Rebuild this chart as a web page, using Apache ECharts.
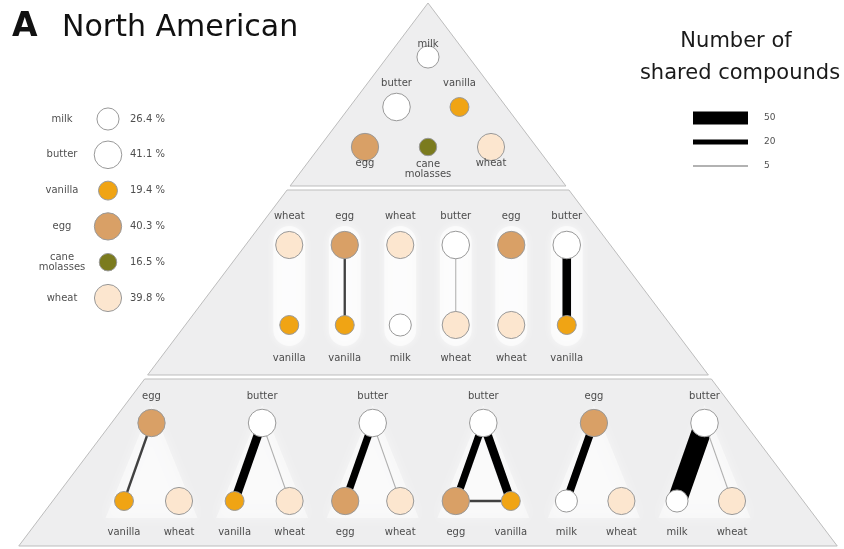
<!DOCTYPE html>
<html>
<head>
<meta charset="utf-8">
<script src="https://cdn.jsdelivr.net/npm/echarts@6/dist/echarts.min.js"></script>
<style>html,body{margin:0;padding:0;background:#fff;}#c{width:844px;height:549px;}</style>
</head>
<body>
<div id="c"></div>
<script>
// ---------------- data ----------------
const ingredients = ['milk', 'butter', 'vanilla', 'egg', 'cane molasses', 'wheat'];
const ingredientLabels = ['milk', 'butter', 'vanilla', 'egg', 'cane\nmolasses', 'wheat'];
const prevalence = [26.4, 41.1, 19.4, 40.3, 16.5, 39.8]; // % of recipes
const pairTop = ['wheat', 'egg', 'wheat', 'butter', 'egg', 'butter'];
const pairBottom = ['vanilla', 'vanilla', 'milk', 'wheat', 'wheat', 'vanilla'];
const triadTop = ['egg', 'butter', 'butter', 'butter', 'egg', 'butter'];
const triadLeft = ['vanilla', 'vanilla', 'egg', 'egg', 'milk', 'milk'];
const triadRight = ['wheat', 'wheat', 'wheat', 'vanilla', 'wheat', 'wheat'];
const edgeA = ['butter', 'butter', 'butter', 'butter', 'egg', 'egg'];
const edgeB = ['milk', 'vanilla', 'egg', 'wheat', 'milk', 'vanilla'];
const edgeCount = [75, 33, 28, 4, 30, 9]; // shared compounds
const scaleCounts = [50, 20, 5];
const scaleLabels = ['50', '20', '5'];

// ---------------- styles ----------------
const nodeColor = {
  'milk': '#ffffff', 'butter': '#ffffff', 'vanilla': '#F0A414',
  'egg': '#D9A066', 'cane molasses': '#7B7B1E', 'wheat': '#FCE6CF'
};
const FONT = 'DejaVu Sans';
const CX = 428, APEX = 3, SLOPE = 410 / 544;

function diam(name) { return 4.3 * Math.sqrt(prevalence[ingredients.indexOf(name)]); }
function shared(a, b) {
  for (let i = 0; i < edgeA.length; i++) {
    if ((edgeA[i] === a && edgeB[i] === b) || (edgeA[i] === b && edgeB[i] === a)) return edgeCount[i];
  }
  return 0;
}
function edgeWidth(n) { return n * 0.26; }
function edgeColor(n) {
  const g = Math.max(0, Math.min(175, Math.round(175 - (n - 4) * 22)));
  return 'rgb(' + g + ',' + g + ',' + g + ')';
}
function label(name) { return ingredientLabels[ingredients.indexOf(name)]; }

// ---------------- layout ----------------
const nodes = [], labels = [], edges = [], bands = [];
function addNode(name, x, y) {
  nodes.push({ value: [x, y], symbolSize: diam(name), itemStyle: { color: nodeColor[name] } });
}
function addLabel(text, x, y, size, align) {
  labels.push({ value: [x, y], name: text, label: { fontSize: size || 10, align: align || 'center' } });
}
function addEdge(a, b, p, q) {
  const n = shared(a, b);
  if (n > 0) edges.push([p[0], p[1], q[0], q[1], n]);
}

// top section
const topSlots = [[0, 0], [1, -1], [1, 1], [2, -1], [2, 0], [2, 1]];
const topRowY = [57, 107, 147], topRowDx = [0, 31.5, 63], topLabelY = [44, 83, 163];
ingredients.forEach((name, i) => {
  const r = topSlots[i][0], x = CX + topSlots[i][1] * topRowDx[r];
  addNode(name, x, topRowY[r]);
  addLabel(label(name), x, name === 'cane molasses' ? 169 : topLabelY[r]);
});

// middle section (pairs)
pairTop.forEach((a, i) => {
  const b = pairBottom[i], x = CX + (i - 2.5) * 55.5;
  const p = [x, 245], q = [x, 325];
  bands.push({ type: 'pair', x: x });
  addEdge(a, b, p, q);
  addNode(a, p[0], p[1]); addNode(b, q[0], q[1]);
  addLabel(label(a), x, 216); addLabel(label(b), x, 358);
});

// bottom section (triads)
triadTop.forEach((a, i) => {
  const l = triadLeft[i], r = triadRight[i], x = CX + (i - 2.5) * 110.6;
  const pa = [x, 423], pl = [x - 27.5, 501], pr = [x + 27.5, 501];
  bands.push({ type: 'triad', x: x });
  addEdge(a, l, pa, pl); addEdge(a, r, pa, pr); addEdge(l, r, pl, pr);
  addNode(a, pa[0], pa[1]); addNode(l, pl[0], pl[1]); addNode(r, pr[0], pr[1]);
  addLabel(label(a), x, 396); addLabel(label(l), pl[0], 532); addLabel(label(r), pr[0], 532);
});

// left legend (prevalence)
ingredients.forEach((name, i) => {
  const y = 119 + i * 35.8;
  addNode(name, 108, y);
  addLabel(label(name), 62, y);
  addLabel(prevalence[i].toFixed(1) + ' %', 130, y, 10, 'left');
});

// right legend (shared compounds)
const scaleEdges = scaleCounts.map((n, i) => [693, 118 + i * 24, 748, 118 + i * 24, n]);
scaleCounts.forEach((n, i) => addLabel(scaleLabels[i], 764, 118 + i * 24, 9, 'left'));

// ---------------- chart ----------------
const sections = [[CX, APEX, 186], [CX, 190, 375], [CX, 379, 546]];
const hw = y => (y - APEX) * SLOPE;

const chart = echarts.init(document.getElementById('c'), null, { renderer: 'canvas' });
chart.setOption({
  animation: false,
  backgroundColor: '#ffffff',
  grid: { left: 0, right: 0, top: 0, bottom: 0 },
  xAxis: { type: 'value', min: 0, max: 844, show: false },
  yAxis: { type: 'value', min: 0, max: 549, inverse: true, show: false },
  graphic: [
    { type: 'text', left: 12, top: 11, style: { text: 'A', font: 'bold 33px "DejaVu Sans"', fill: '#111' } },
    { type: 'text', left: 62, top: 13, style: { text: 'North American', font: '30px "DejaVu Sans"', fill: '#111' } },
    { type: 'text', x: 736, y: 42, style: { text: 'Number of', font: '21px "DejaVu Sans"', fill: '#1a1a1a', align: 'center', verticalAlign: 'middle' } },
    { type: 'text', x: 740, y: 74, style: { text: 'shared compounds', font: '21px "DejaVu Sans"', fill: '#1a1a1a', align: 'center', verticalAlign: 'middle' } }
  ],
  series: [
    {
      type: 'custom', z: 1, silent: true, clip: false,
      encode: { x: 0, y: [1, 2] },
      data: sections,
      renderItem: function (params, api) {
        const y1 = api.value(1), y2 = api.value(2), c = api.value(0);
        const pts = [[c - hw(y1), y1], [c + hw(y1), y1], [c + hw(y2), y2], [c - hw(y2), y2]].map(p => api.coord(p));
        return { type: 'polygon', shape: { points: pts }, style: { fill: '#eeeeef', stroke: '#bdbdbd', lineWidth: 1 } };
      }
    },
    {
      type: 'custom', z: 2, silent: true, clip: false,
      encode: { x: 0, y: 1 },
      data: bands.map(b => [b.x, b.type === 'pair' ? 285 : 465, b.type === 'pair' ? 0 : 1]),
      renderItem: function (params, api) {
        const x = api.value(0), t = api.value(2);
        if (t === 0) {
          const a = api.coord([x - 16, 226]), b = api.coord([x + 16, 346]);
          return { type: 'rect', shape: { x: a[0], y: a[1], width: b[0] - a[0], height: b[1] - a[1], r: 16 },
            style: { fill: 'rgba(255,255,255,0.6)', shadowBlur: 8, shadowColor: 'rgba(255,255,255,1)' } };
        }
        const pts = [[x, 405], [x - 46, 518], [x + 46, 518]].map(p => api.coord(p));
        return { type: 'polygon', shape: { points: pts },
          style: { fill: 'rgba(255,255,255,0.45)', shadowBlur: 14, shadowColor: 'rgba(255,255,255,1)' } };
      }
    },
    {
      type: 'custom', z: 3, silent: true, clip: false,
      encode: { x: [0, 2], y: [1, 3] },
      data: edges.concat(scaleEdges),
      renderItem: function (params, api) {
        const p = api.coord([api.value(0), api.value(1)]), q = api.coord([api.value(2), api.value(3)]);
        const n = api.value(4);
        return { type: 'line', shape: { x1: p[0], y1: p[1], x2: q[0], y2: q[1] },
          style: { stroke: edgeColor(n), lineWidth: edgeWidth(n), lineCap: 'butt' } };
      }
    },
    {
      type: 'scatter', z: 4, silent: true,
      symbol: 'circle',
      itemStyle: { borderColor: '#999999', borderWidth: 1, opacity: 1 },
      data: nodes
    },
    {
      type: 'scatter', z: 5, silent: true,
      symbolSize: 1,
      itemStyle: { color: 'transparent' },
      label: {
        show: true, position: 'inside', formatter: p => p.name,
        fontFamily: FONT, fontSize: 10, color: '#222', lineHeight: 10
      },
      data: labels
    }
  ]
});
</script>
</body>
</html>
